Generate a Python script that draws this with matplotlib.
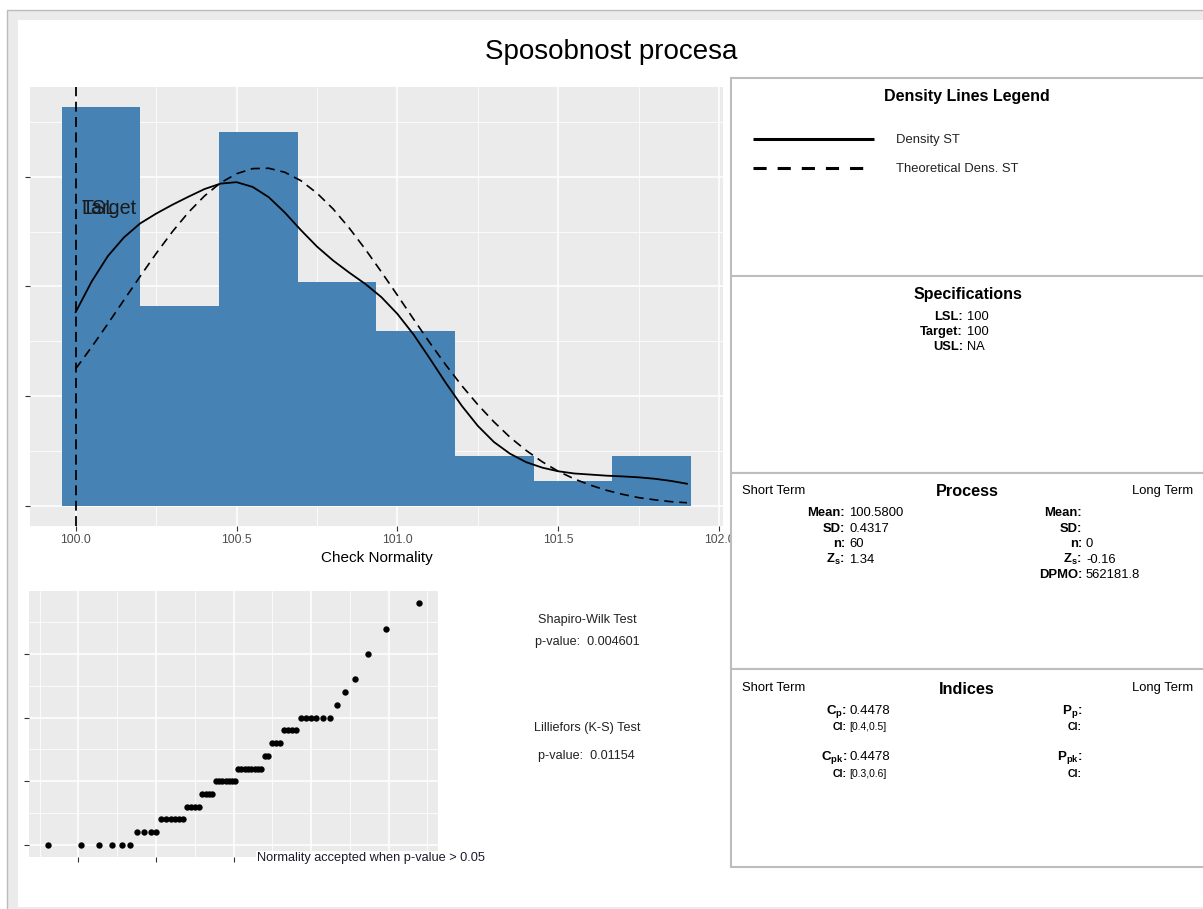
import numpy as np
import matplotlib
matplotlib.use('Agg')
import matplotlib.pyplot as plt
from matplotlib.patches import Rectangle

plt.rcParams['font.family'] = ['Liberation Sans', 'DejaVu Sans']
plt.rcParams['mathtext.fontset'] = 'custom'
plt.rcParams['mathtext.rm'] = 'Liberation Sans'
plt.rcParams['mathtext.it'] = 'Liberation Sans:italic'
plt.rcParams['mathtext.bf'] = 'Liberation Sans:bold'

############ data ############

# measured values and how many times each one occurs (n = 60)
values = [100.0, 100.1, 100.2, 100.3, 100.4, 100.5, 100.6, 100.7, 100.8,
          100.9, 101.0, 101.1, 101.2, 101.3, 101.5, 101.7, 101.9]
counts = [6, 4, 6, 4, 4, 7, 8, 2, 3, 4, 6, 1, 1, 1, 1, 1, 1]

bin_edges = [99.956, 100.2005, 100.445, 100.6895, 100.934, 101.1785,
             101.423, 101.6675, 101.912]

# theoretical quantiles on the qq plot (x of each point)
qq_theory = [-2.39, -1.96, -1.73, -1.57, -1.44, -1.33, -1.24, -1.15, -1.07, -1.00,
             -0.93, -0.87, -0.81, -0.76, -0.70, -0.65, -0.60, -0.55, -0.50, -0.45,
             -0.41, -0.36, -0.32, -0.28, -0.23, -0.19, -0.15, -0.10, -0.06, -0.02,
             0.02, 0.06, 0.10, 0.15, 0.19, 0.23, 0.28, 0.32, 0.36, 0.41,
             0.45, 0.50, 0.55, 0.60, 0.65, 0.70, 0.76, 0.81, 0.87, 0.93,
             1.00, 1.07, 1.15, 1.24, 1.33, 1.44, 1.57, 1.73, 1.96, 2.39]

# both density curves share the same x grid
dens_x = [100.0, 100.05, 100.1, 100.15, 100.2, 100.25, 100.3, 100.35, 100.4,
          100.45, 100.5, 100.55, 100.6, 100.65, 100.7, 100.75, 100.8, 100.85,
          100.9, 100.95, 101.0, 101.05, 101.1, 101.15, 101.2, 101.25, 101.3,
          101.35, 101.4, 101.45, 101.5, 101.55, 101.6, 101.65, 101.7, 101.75,
          101.8, 101.85, 101.9]

# density ST (solid)
kde_y = [0.530, 0.614, 0.683, 0.734, 0.772, 0.799, 0.823, 0.845, 0.866,
         0.881, 0.885, 0.872, 0.844, 0.802, 0.754, 0.709, 0.671, 0.638,
         0.607, 0.571, 0.525, 0.469, 0.404, 0.337, 0.274, 0.219, 0.175,
         0.143, 0.120, 0.105, 0.095, 0.089, 0.086, 0.083, 0.081, 0.0785,
         0.0745, 0.0687, 0.061]

# theoretical density ST (dashed)
norm_y = [0.375, 0.435, 0.498, 0.563, 0.627, 0.690, 0.749, 0.802, 0.847,
          0.883, 0.908, 0.922, 0.923, 0.912, 0.889, 0.855, 0.812, 0.760,
          0.702, 0.640, 0.576, 0.511, 0.447, 0.386, 0.329, 0.277, 0.230,
          0.188, 0.152, 0.121, 0.095, 0.074, 0.057, 0.043, 0.032, 0.023,
          0.017, 0.012, 0.009]

lsl = 100
target = 100

spec_labels = ['LSL:', 'Target:', 'USL:']
spec_values = ['100', '100', 'NA']

st_labels = ['Mean:', 'SD:', 'n:', r'$\mathbf{Z_s}$:']
st_values = ['100.5800', '0.4317', '60', '1.34']
lt_labels = ['Mean:', 'SD:', 'n:', r'$\mathbf{Z_s}$:', 'DPMO:']
lt_values = ['', '', '0', '-0.16', '562181.8']

shapiro_p = '0.004601'
lillie_p = '0.01154'

sample = np.repeat(values, counts)

############ figure ############
W, H = 1203, 909
fig = plt.figure(figsize=(W / 100, H / 100), dpi=100)
fig.patch.set_facecolor('white')

# frame behind everything (pixel coords)
bg = fig.add_axes([0, 0, 1, 1], zorder=-5)
bg.set_xlim(0, W)
bg.set_ylim(H, 0)
bg.axis('off')
bg.add_patch(Rectangle((7, 10), W, H, facecolor='#ebebeb', edgecolor='#bcbcbc', lw=1))
bg.add_patch(Rectangle((18, 20), W, 887, facecolor='white', edgecolor='none'))

grey_panel = '#ebebeb'


def gg_style(a):
    a.set_facecolor(grey_panel)
    for s in a.spines.values():
        s.set_visible(False)
    a.grid(which='major', color='white', lw=1.1)
    a.grid(which='minor', color='white', lw=0.55)
    a.set_axisbelow(True)
    a.tick_params(which='major', length=3.5, width=0.8, color='#333333',
                  labelsize=8.8, labelcolor='#4d4d4d', pad=2)
    a.tick_params(which='minor', length=0)


#### histogram + densities ####
ax = fig.add_axes([30 / W, 1 - 526 / H, 693 / W, 439 / H])
gg_style(ax)
ax.hist(sample, bins=bin_edges, density=True, color='#4682b4', zorder=2)
ax.plot(dens_x, kde_y, color='black', lw=1.3, zorder=3)
ax.plot(dens_x, norm_y, color='black', lw=1.2, ls=(0, (5.5, 3.5)), zorder=3)
ax.axvline(target, color='black', lw=1.3, ls=(0, (5.5, 3.0)), zorder=4)
ax.text(lsl + 0.018, 0.814, 'LSL', fontsize=14.2, color='#1a1a1a', ha='left', va='center', zorder=5)
ax.text(target + 0.018, 0.814, 'Target', fontsize=14.2, color='#1a1a1a', ha='left', va='center', zorder=5)
ax.set_xlim(99.858, 102.012)
ax.set_ylim(-0.0545, 1.145)
ax.set_xticks([100, 100.5, 101, 101.5, 102])
ax.set_xticklabels(['100.0', '100.5', '101.0', '101.5', '102.0'])
ax.set_xticks([100.25, 100.75, 101.25, 101.75], minor=True)
ax.set_yticks([0, 0.3, 0.6, 0.9])
ax.set_yticklabels([])
ax.set_yticks([0.15, 0.45, 0.75, 1.05], minor=True)
ax.set_xlabel('Check Normality', fontsize=11, labelpad=4)

#### qq plot ####
aq = fig.add_axes([29.3 / W, 1 - 857 / H, 408.4 / W, 266 / H])
gg_style(aq)
aq.scatter(qq_theory, sample, s=21, color='black', zorder=3, linewidths=0)
aq.set_xlim(-2.633, 2.633)
aq.set_ylim(99.905, 101.995)
aq.set_xticks([-2, -1, 0, 1, 2])
aq.set_xticklabels([])
aq.set_xticks([-2.5, -1.5, -0.5, 0.5, 1.5, 2.5], minor=True)
aq.set_yticks([100, 100.5, 101, 101.5])
aq.set_yticklabels([])
aq.set_yticks([100.25, 100.75, 101.25, 101.75], minor=True)

#### text and boxes on top (pixel coords) ####
ov = fig.add_axes([0, 0, 1, 1], zorder=10)
ov.set_xlim(0, W)
ov.set_ylim(H, 0)
ov.axis('off')

ov.text(611, 52, 'Sposobnost procesa', fontsize=20, ha='center', va='center')

ov.text(257, 858, 'Normality accepted when p-value > 0.05', fontsize=9.2, color='#1a1a2a',
        ha='left', va='center', bbox=dict(facecolor='white', edgecolor='none', pad=0.5))
ov.text(587, 620, 'Shapiro-Wilk Test', fontsize=9.1, ha='center', va='center', color='#222222')
ov.text(587, 642, 'p-value:  ' + shapiro_p, fontsize=9.1, ha='center', va='center', color='#222222')
ov.text(587, 728, 'Lilliefors (K-S) Test', fontsize=9.1, ha='center', va='center', color='#222222')
ov.text(586, 756, 'p-value:  ' + lillie_p, fontsize=9.1, ha='center', va='center', color='#222222')

box_edges = [78, 276, 473, 669, 867]
for top, bot in zip(box_edges[:-1], box_edges[1:]):
    ov.add_patch(Rectangle((731, top), 520, bot - top, facecolor='white',
                           edgecolor='#bdbdbd', lw=1.5))

# legend box
ov.text(967, 97, 'Density Lines Legend', fontsize=11.5, fontweight='bold', ha='center', va='center')
ov.plot([753, 874], [139, 139], color='black', lw=2.2, solid_capstyle='butt')
ov.plot([753, 866], [168, 168], color='black', lw=2.2, ls=(0, (4.3, 3.6)))
ov.text(896, 140, 'Density ST', fontsize=9.4, ha='left', va='center', color='#222222')
ov.text(896, 169, 'Theoretical Dens. ST', fontsize=9.4, ha='left', va='center', color='#222222')

# specifications
ov.text(968, 295, 'Specifications', fontsize=11.5, fontweight='bold', ha='center', va='center')
for i in range(len(spec_labels)):
    y = 317 + 15 * i
    ov.text(963, y, spec_labels[i], fontsize=9.3, fontweight='bold', ha='right', va='center')
    ov.text(967, y, spec_values[i], fontsize=9.3, ha='left', va='center')

# process
ov.text(742, 491, 'Short Term', fontsize=9.4, ha='left', va='center')
ov.text(1193, 491, 'Long Term', fontsize=9.4, ha='right', va='center')
ov.text(967, 492, 'Process', fontsize=11.7, fontweight='bold', ha='center', va='center')
for i in range(len(st_labels)):
    y = 513 + 15.6 * i
    ov.text(845, y, st_labels[i], fontsize=9.4, fontweight='bold', ha='right', va='center')
    ov.text(849, y, st_values[i], fontsize=9.4, ha='left', va='center')
for i in range(len(lt_labels)):
    y = 513 + 15.6 * i
    ov.text(1082, y, lt_labels[i], fontsize=9.4, fontweight='bold', ha='right', va='center')
    ov.text(1086, y, lt_values[i], fontsize=9.4, ha='left', va='center')

# indices
ov.text(742, 688, 'Short Term', fontsize=9.4, ha='left', va='center')
ov.text(1193, 688, 'Long Term', fontsize=9.4, ha='right', va='center')
ov.text(967, 689, 'Indices', fontsize=11.7, fontweight='bold', ha='center', va='center')
ov.text(847, 711, r'$\mathbf{C_p}$:', fontsize=9.6, fontweight='bold', ha='right', va='center')
ov.text(849, 711, '0.4478', fontsize=9.6, ha='left', va='center')
ov.text(847, 727, 'CI:', fontsize=7.6, fontweight='bold', ha='right', va='center')
ov.text(849, 727, '[0.4,0.5]', fontsize=7.4, ha='left', va='center')
ov.text(847, 757, r'$\mathbf{C_{pk}}$:', fontsize=9.6, fontweight='bold', ha='right', va='center')
ov.text(849, 757, '0.4478', fontsize=9.6, ha='left', va='center')
ov.text(847, 774, 'CI:', fontsize=7.6, fontweight='bold', ha='right', va='center')
ov.text(849, 774, '[0.3,0.6]', fontsize=7.4, ha='left', va='center')
ov.text(1082, 711, r'$\mathbf{P_p}$:', fontsize=9.6, fontweight='bold', ha='right', va='center')
ov.text(1082, 727, 'CI:', fontsize=7.6, fontweight='bold', ha='right', va='center')
ov.text(1082, 757, r'$\mathbf{P_{pk}}$:', fontsize=9.6, fontweight='bold', ha='right', va='center')
ov.text(1082, 774, 'CI:', fontsize=7.6, fontweight='bold', ha='right', va='center')

plt.savefig('out.png', dpi=100)
